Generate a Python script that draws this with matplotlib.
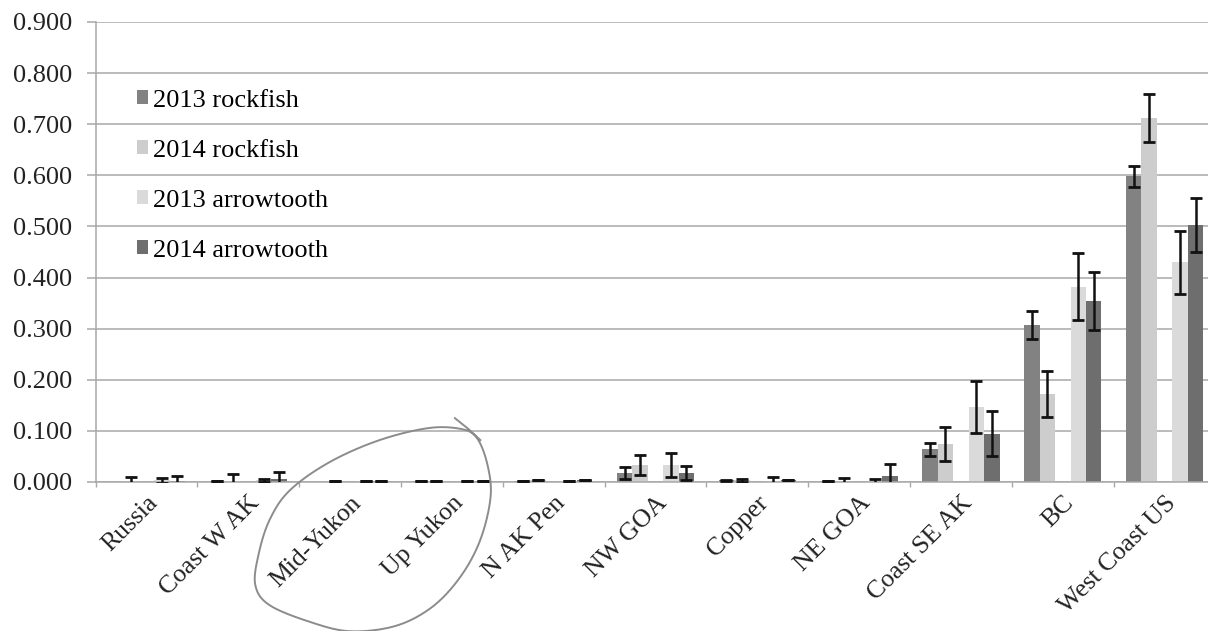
import matplotlib
matplotlib.use("Agg")
import matplotlib.pyplot as plt
import numpy as np

plt.rcParams['font.family'] = ['Liberation Serif', 'DejaVu Serif']

# categories (regions) along the x axis
regions = ['Russia', 'Coast W AK', 'Mid-Yukon', 'Up Yukon', 'N AK Pen', 'NW GOA',
           'Copper', 'NE GOA', 'Coast SE AK', 'BC', 'West Coast US']

# series values (nan = no bar)
rock_2013 = [np.nan, 0.002, np.nan, 0.002, 0.002, 0.018, 0.003, 0.002, 0.064, 0.307, 0.598]
rock_2014 = [0.001, 0.002, 0.002, 0.002, 0.003, 0.033, 0.003, 0.001, 0.075, 0.172, 0.712]
arrow_2013 = [0.003, 0.003, 0.002, 0.002, 0.002, 0.033, 0.001, 0.001, 0.147, 0.382, 0.430]
arrow_2014 = [0.002, 0.006, 0.002, 0.002, 0.003, 0.018, 0.003, 0.012, 0.094, 0.354, 0.503]

# error bar half-widths
rock_2013_err = [0, 0, 0, 0, 0, 0.012, 0.001, 0, 0.013, 0.027, 0.021]
rock_2014_err = [0.008, 0.013, 0, 0, 0, 0.020, 0.003, 0.006, 0.033, 0.045, 0.047]
arrow_2013_err = [0.004, 0.003, 0, 0, 0, 0.024, 0.009, 0.005, 0.051, 0.066, 0.062]
arrow_2014_err = [0.010, 0.014, 0, 0, 0, 0.014, 0, 0.024, 0.044, 0.057, 0.053]

yticks = np.arange(0, 0.91, 0.1)

# hand-drawn loop around Mid-Yukon / Up Yukon (data coords: category index, value)
loop_x = [3.03, 3.26, 3.37, 3.37, 3.26, 3.06, 2.79, 2.44, 2.00, 1.61, 1.21, 1.07,
          1.10, 1.21, 1.41, 1.80, 2.29, 2.79, 3.13, 3.28]
loop_y = [0.125, 0.082, 0.014, -0.045, -0.123, -0.192, -0.247, -0.282, -0.292, -0.274,
          -0.241, -0.202, -0.143, -0.074, -0.016, 0.039, 0.082, 0.106, 0.102, 0.082]


def smooth(xs, ys, n=20):
    """Catmull-Rom through the stroke points"""
    p = np.column_stack([xs, ys])
    p = np.vstack([p[0], p, p[-1]])
    t = np.linspace(0, 1, n, endpoint=False)[:, None]
    out = []
    for i in range(1, len(p) - 2):
        p0, p1, p2, p3 = p[i - 1], p[i], p[i + 1], p[i + 2]
        out.append(0.5 * (2 * p1 + (-p0 + p2) * t + (2 * p0 - 5 * p1 + 4 * p2 - p3) * t ** 2
                          + (-p0 + 3 * p1 - 3 * p2 + p3) * t ** 3))
    out.append(p[-2][None])
    out = np.vstack(out)
    return out[:, 0], out[:, 1]


fig = plt.figure(figsize=(12.08, 6.31), dpi=100)
ax = fig.add_axes([95.5 / 1208, 1 - 482 / 631, 1120 / 1208, 460 / 631])

x = np.arange(len(regions))
width = 0.152
series = [
    (rock_2013, rock_2013_err, '2013 rockfish', '#828282', 0),
    (rock_2014, rock_2014_err, '2014 rockfish', '#cdcdcd', 1),
    (arrow_2013, arrow_2013_err, '2013 arrowtooth', '#dadada', 3),
    (arrow_2014, arrow_2014_err, '2014 arrowtooth', '#6e6e6e', 4),
]
for vals, errs, label, color, slot in series:
    pos = x + (slot - 2) * width
    ax.bar(pos, vals, width, color=color, label=label, zorder=2)
    ax.errorbar(pos, vals, yerr=errs, fmt='none', ecolor='#111111', elinewidth=1.8,
                capsize=4.5, capthick=2, zorder=3)

# axes styling
ax.set_xlim(-0.5, len(regions) - 0.5)
ax.set_ylim(0, 0.9)
ax.set_yticks(yticks)
ax.set_yticklabels(['%0.3f' % v for v in yticks], fontsize=19, color='#222222')
ax.yaxis.grid(True, color='#a8a8a8', lw=1.1)
ax.set_axisbelow(True)
ax.tick_params(axis='y', length=6.5, width=1.1, color='#a8a8a8', pad=10)

ax.set_xticks(x)
ax.set_xticklabels(regions, rotation=45, ha='right', va='top', rotation_mode='anchor',
                   fontsize=18.5, color='#222222')
ax.set_xticks(np.arange(-0.5, len(regions), 1), minor=True)
ax.tick_params(axis='x', which='major', length=0, pad=7)
ax.tick_params(axis='x', which='minor', length=3.6, width=1, color='#a8a8a8')

for side in ['top', 'right']:
    ax.spines[side].set_visible(False)
for side in ['left', 'bottom']:
    ax.spines[side].set_color('#a8a8a8')
    ax.spines[side].set_linewidth(1.1)

ax.legend(loc='upper left', bbox_to_anchor=(0.037, 0.853), frameon=False, fontsize=19,
          handlelength=0.42, handleheight=0.42, handletextpad=0.2, labelspacing=1.06,
          borderpad=0, borderaxespad=0)

lx, ly = smooth(loop_x, loop_y)
ax.plot(lx, ly, color='#8c8c8c', lw=1.4, clip_on=False, zorder=5)

fig.savefig('out.png', dpi=100)
